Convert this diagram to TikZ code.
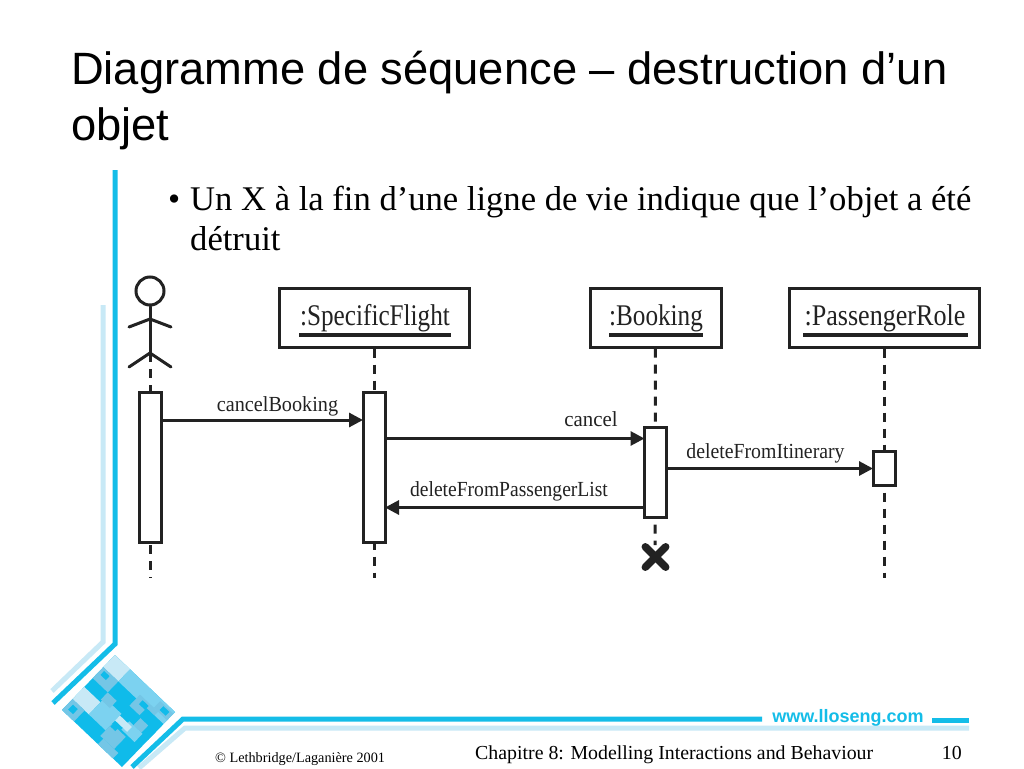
\documentclass[tikz,border=0pt]{standalone}
\usepackage{fontspec}
\setmainfont{Liberation Serif}
\newfontfamily\arialf{Liberation Sans}
\usetikzlibrary{arrows.meta}
\definecolor{bluedark}{HTML}{14BDE8}
\definecolor{bluepale}{HTML}{C8E9F6}
\definecolor{bluemid}{HTML}{7CD2F0}
\definecolor{bluegrey}{HTML}{74C6E6}
\definecolor{logodark}{HTML}{0FBBEA}
\definecolor{inkc}{HTML}{222222}
\newcommand{\logocell}[5]{\fill[#5] (#1,#2) -- (#3,#2) -- (#3,#4) -- (#1,#4) -- cycle;}
\tikzset{
  px/.style={x=1pt,y=-1pt},
  bar/.style={line width=5pt,bluedark,line join=miter},
  barpale/.style={line width=5pt,bluepale,line join=miter},
  objbox/.style={draw=inkc,line width=3pt,fill=white,inner sep=0pt,minimum height=59pt,text=inkc},
  actbox/.style={draw=inkc,line width=3pt,fill=white,inner sep=0pt,minimum width=22pt},
  life/.style={draw=inkc,line width=3pt,dash pattern=on 9pt off 7pt},
  msg/.style={draw=inkc,line width=3pt,shorten >=-1.5pt,-{Triangle[length=14pt,width=14pt]}},
  lbl/.style={text=inkc,inner sep=0pt,font=\fontsize{21.5}{21.5}\selectfont,anchor=base},
  ul/.style={draw=inkc,line width=4pt},
  stick/.style={draw=inkc,line width=3pt,line cap=round,line join=round},
}
\begin{document}
\begin{tikzpicture}[px]
\useasboundingbox (0,0) rectangle (1024,768);
\fill[white] (0,0) rectangle (1024,768);
% frame bars
\draw[barpale] (103,305) -- (103,642) -- (52,691);
\draw[bar] (115,170) -- (115,644) -- (53,703);
\draw[barpale] (139,768) -- (185,728) -- (969,728);
\draw[bar] (132,767) -- (183,719) -- (762,719);
\draw[bar] (932,720) -- (969,720);
% logo
\begin{scope}[shift={(115,655)},x={(0.60pt,-0.57pt)},y={(-0.53pt,-0.55pt)}]
\logocell{0}{0}{100}{100}{logodark}
\logocell{0}{0}{25}{22}{bluepale}
\logocell{25}{0}{100}{22}{bluemid}
\logocell{0}{22}{25}{42}{bluegrey}
\logocell{4}{25}{13}{32}{logodark}
\logocell{0}{58}{27}{80}{bluepale}
\logocell{0}{80}{20}{100}{bluegrey}
\logocell{5}{85}{13}{94}{logodark}
\logocell{27}{50}{55}{80}{bluemid}
\logocell{25}{42}{40}{55}{bluegrey}
\logocell{55}{15}{85}{35}{bluegrey}
\logocell{62}{18}{72}{25}{logodark}
\logocell{78}{3}{100}{15}{bluegrey}
\logocell{85}{5}{95}{12}{logodark}
\logocell{72}{22}{100}{50}{logodark}
\logocell{75}{37}{88}{50}{bluegrey}
\logocell{68}{50}{90}{65}{bluemid}
\logocell{55}{68}{78}{90}{bluegrey}
\logocell{56}{66}{64}{72}{logodark}
\logocell{60}{90}{85}{100}{bluegrey}
\logocell{55}{53}{75}{62}{bluepale}
\end{scope}
% title
\node[anchor=base west,inner sep=0pt,font=\arialf\fontsize{45.3}{45.3}\selectfont] (title1) at (71,84) {Diagramme de séquence – destruction d’un};
\node[anchor=base west,inner sep=0pt,font=\arialf\fontsize{45.3}{45.3}\selectfont] (title2) at (71,140) {objet};
% bullet text
\node[anchor=base west,inner sep=0pt,font=\fontsize{34.6}{34.6}\selectfont] (bul) at (168,210) {•};
\node[anchor=base west,inner sep=0pt,font=\fontsize{34.6}{34.6}\selectfont] (body1) at (190,210) {Un X à la fin d’une ligne de vie indique que l’objet a été};
\node[anchor=base west,inner sep=0pt,font=\fontsize{34.6}{34.6}\selectfont] (body2) at (190,250) {détruit};
% lifelines
\coordinate (hip) at (150,353);
\coordinate (end1) at (150,578);
\coordinate (end2) at (374,578);
\coordinate (end3) at (655,545);
\coordinate (end4) at (884,578);
\node[objbox,minimum width=190pt] (flight) at (374,317.5) {};
\node[objbox,minimum width=131pt] (booking) at (655.5,317.5) {};
\node[objbox,minimum width=190pt] (role) at (884,317.5) {};
\draw[life] (hip) -- (end1);
\draw[life] (flight) -- (end2);
\draw[life] (booking) -- (end3);
\draw[life] (role) -- (end4);
% object labels
\node[lbl,font=\fontsize{30}{30}\selectfont,xscale=.84] (tflight) at (375,325) {:SpecificFlight};
\node[lbl,font=\fontsize{30}{30}\selectfont,xscale=.84] (tbooking) at (656,325) {:Booking};
\node[lbl,font=\fontsize{30}{30}\selectfont,xscale=.87] (trole) at (885,325) {:PassengerRole};
\draw[ul] (299,335) -- (451,335);
\draw[ul] (609,335) -- (703,335);
\draw[ul] (803,335) -- (968,335);
% activations
\node[actbox,minimum height=150pt] (act1) at (150.5,467) {};
\node[actbox,minimum height=150pt] (act2) at (374,467) {};
\node[actbox,minimum height=90pt] (act3) at (655.5,472) {};
\node[actbox,minimum height=34pt] (act4) at (884,468) {};
% actor
\node[circle,draw=inkc,line width=3pt,minimum size=28pt,inner sep=0pt] (head) at (150,291) {};
\coordinate (neck) at (150,319);
\coordinate (arml) at (129,327);
\coordinate (armr) at (171,327);
\coordinate (legl) at (129,367);
\coordinate (legr) at (171,367);
\draw[stick] (head) -- (hip);
\draw[stick] (arml) -- (neck) -- (armr);
\draw[stick] (legl) -- (hip) -- (legr);
% messages
\draw[msg] (act1.east |- 0,420) -- (act2.west |- 0,420);
\draw[msg] (act2.east |- 0,438.5) -- (act3.west |- 0,438.5);
\draw[msg] (act3.east |- 0,468.5) -- (act4.west |- 0,468.5);
\draw[msg] (act3.west |- 0,507.5) -- (act2.east |- 0,507.5);
\node[lbl,xscale=.94] (m1) at (277.5,411) {cancelBooking};
\node[lbl,xscale=.97] (m2) at (591,426) {cancel};
\node[lbl,xscale=.92] (m3) at (765.5,458) {deleteFromItinerary};
\node[lbl,xscale=.91] (m4) at (509,496) {deleteFromPassengerList};
% destruction
\node[inner sep=0pt,minimum size=20pt] (xmark) at (655.5,557) {};
\draw[inkc,line width=7.5pt,line cap=round] (xmark.north west) -- (xmark.south east);
\draw[inkc,line width=7.5pt,line cap=round] (xmark.north east) -- (xmark.south west);
% footer
\node[anchor=base,inner sep=0pt,font=\arialf\bfseries\fontsize{18}{18}\selectfont,text=bluedark] (www) at (848,722) {www.lloseng.com};
\node[anchor=base west,inner sep=0pt,font=\fontsize{14.25}{14.25}\selectfont] (copy) at (215,762) {© Lethbridge/Laganière 2001};
\node[anchor=base west,inner sep=0pt,font=\fontsize{19.85}{19.85}\selectfont] (chap) at (475,759) {Chapitre 8: Modelling Interactions and Behaviour};
\node[anchor=base east,inner sep=0pt,font=\fontsize{19.85}{19.85}\selectfont] (pg) at (962,759) {10};
\end{tikzpicture}
\end{document}
